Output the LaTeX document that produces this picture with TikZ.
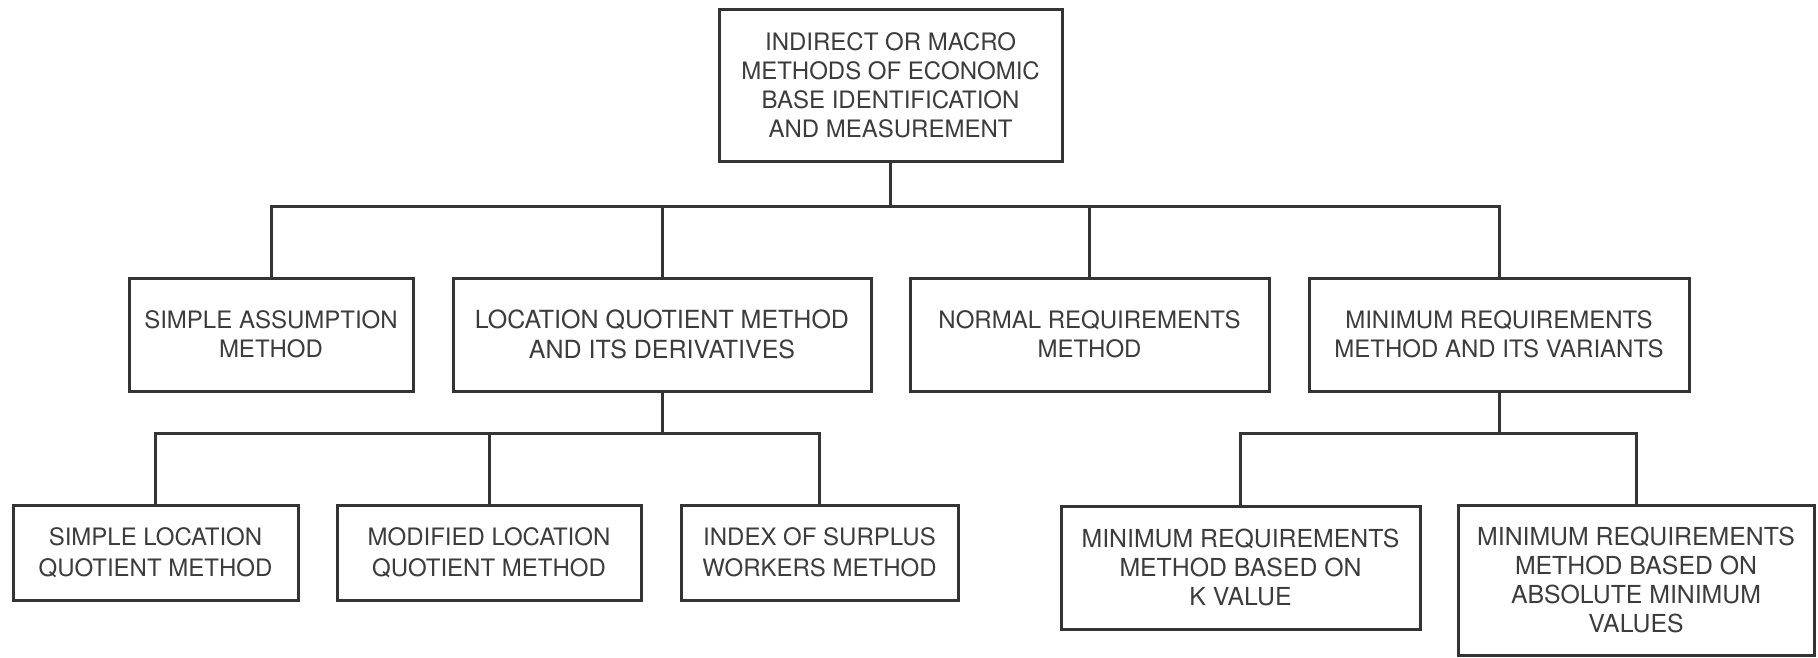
\documentclass[tikz,border=0pt]{standalone}
\usepackage{fontspec}
\setmainfont{TeX Gyre Heros}
\definecolor{ink}{RGB}{52,52,52}
\definecolor{txt}{RGB}{60,60,60}
\begin{document}
\begin{tikzpicture}[x=1pt,y=-1pt,
  box/.style={draw=ink, line width=3pt, rectangle, inner sep=0pt, align=center,
    text=txt, font=\fontsize{24}{29}\selectfont},
  link/.style={draw=ink, line width=3pt}]
\useasboundingbox (0,0) rectangle (1818,657);

% root
\node[box, minimum width=343, minimum height=152] (root) at (890.5,85)
  {INDIRECT OR MACRO\\METHODS OF ECONOMIC\\BASE IDENTIFICATION\\AND MEASUREMENT};

% second level
\node[box, minimum width=284, minimum height=113] (sam) at (271,334.5)
  {SIMPLE ASSUMPTION\\METHOD};
\node[box, minimum width=418, minimum height=113, font=\fontsize{25}{30}\selectfont] (lqm) at (662,334.5)
  {LOCATION QUOTIENT METHOD\\AND ITS DERIVATIVES};
\node[box, minimum width=359, minimum height=113] (nrm) at (1089.5,334.5)
  {NORMAL REQUIREMENTS\\METHOD};
\node[box, minimum width=380, minimum height=113] (mrm) at (1499,334.5)
  {MINIMUM REQUIREMENTS\\METHOD AND ITS VARIANTS};

% derivatives of the location quotient method
\node[box, minimum width=285, minimum height=95, font=\fontsize{24}{31}\selectfont] (slq) at (155.5,552.5)
  {SIMPLE LOCATION\\QUOTIENT METHOD};
\node[box, minimum width=304, minimum height=95, font=\fontsize{24}{31}\selectfont] (mlq) at (489,552.5)
  {MODIFIED LOCATION\\QUOTIENT METHOD};
\node[box, minimum width=277, minimum height=95, font=\fontsize{24}{31}\selectfont] (isw) at (819.5,552.5)
  {INDEX OF SURPLUS\\WORKERS METHOD};

% variants of the minimum requirements method
\node[box, minimum width=359, minimum height=123, font=\fontsize{24.8}{29}\selectfont] (kval) at (1240.5,567.5)
  {MINIMUM REQUIREMENTS\\METHOD BASED ON\\K VALUE};
\node[box, minimum width=356, minimum height=150, font=\fontsize{24.8}{29}\selectfont] (absmin) at (1636,580)
  {MINIMUM REQUIREMENTS\\METHOD BASED ON\\ABSOLUTE MINIMUM\\VALUES};

% connectors
\foreach \n in {sam,lqm,nrm,mrm}
  \draw[link] (root.south) -- ++(0,44) -| (\n.north);
\foreach \n in {slq,mlq,isw}
  \draw[link] (lqm.south) -- ++(0,41) -| (\n.north);
\foreach \n in {kval,absmin}
  \draw[link] (mrm.south) -- ++(0,41) -| (\n.north);
\end{tikzpicture}
\end{document}
